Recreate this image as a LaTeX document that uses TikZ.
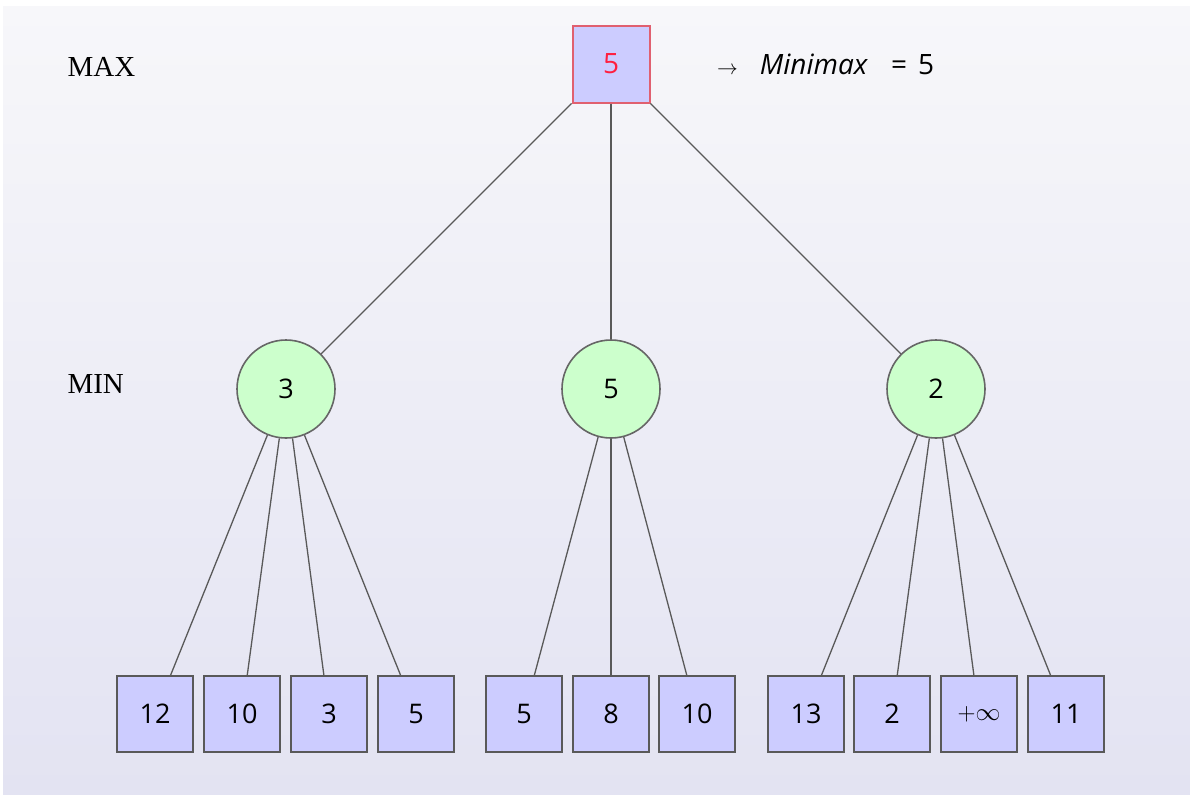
\documentclass[tikz,border=0pt]{standalone}
\usepackage{fontspec}
\setmainfont{Liberation Serif}
\newfontfamily\nodefont{Open Sans}
\begin{document}
\begin{tikzpicture}[x=1pt,y=-1pt,
  leaf/.style={draw=black!65, fill=leafblue, line width=1.6pt, minimum size=76pt, inner sep=0pt, font=\nodefont\fontsize{27}{30}\selectfont},
  minnode/.style={circle, draw=black!60, fill=mingreen, line width=1.6pt, minimum size=98pt, inner sep=0pt, font=\nodefont\fontsize{27}{30}\selectfont},
  rootnode/.style={draw=rootborder, fill=leafblue, line width=2pt, minimum size=77pt, inner sep=0pt, text=roottext, font=\nodefont\fontsize{28}{30}\selectfont},
  edge/.style={draw=black!65, line width=1.3pt},
  lvl/.style={font=\fontsize{29}{32}\selectfont, anchor=west}]
\definecolor{leafblue}{HTML}{CCCCFF}
\definecolor{mingreen}{HTML}{CCFFCC}
\definecolor{rootborder}{HTML}{E06070}
\definecolor{roottext}{HTML}{FF2040}
\definecolor{bgtop}{HTML}{F7F7FA}
\definecolor{bgbot}{HTML}{E3E3F2}
\useasboundingbox (0,0) rectangle (1190,795);
\shade[top color=bgtop, bottom color=bgbot] (3,6) rectangle (1190,794);

\node[lvl] (maxlbl) at (64,67) {MAX};
\node[lvl] (minlbl) at (64,384) {MIN};

\node[rootnode] (root) at (611,64) {5};
\node[anchor=west, inner sep=0pt, font=\nodefont\fontsize{28}{30}\selectfont] (res) at (717,64) {{\fontsize{21}{22}\selectfont$\rightarrow$}\hspace{22pt}\textit{Minimax}\hspace{23pt}=\hspace{11pt}5};

\node[minnode] (m1) at (286,389) {3};
\node[minnode] (m2) at (611,389) {5};
\node[minnode] (m3) at (936,389) {2};

\node[leaf] (l1) at (155,714) {12};
\node[leaf] (l2) at (242,714) {10};
\node[leaf] (l3) at (329,714) {3};
\node[leaf] (l4) at (416,714) {5};
\node[leaf] (l5) at (524,714) {5};
\node[leaf] (l6) at (611,714) {8};
\node[leaf] (l7) at (697,714) {10};
\node[leaf] (l8) at (806,714) {13};
\node[leaf] (l9) at (892,714) {2};
\node[leaf] (l10) at (979,714) {$+\infty$};
\node[leaf] (l11) at (1066,714) {11};

\foreach \m in {m1,m2,m3} \draw[edge] (root) -- (\m);
\foreach \l in {l1,l2,l3,l4} \draw[edge] (m1) -- (\l);
\foreach \l in {l5,l6,l7} \draw[edge] (m2) -- (\l);
\foreach \l in {l8,l9,l10,l11} \draw[edge] (m3) -- (\l);
\end{tikzpicture}
\end{document}
